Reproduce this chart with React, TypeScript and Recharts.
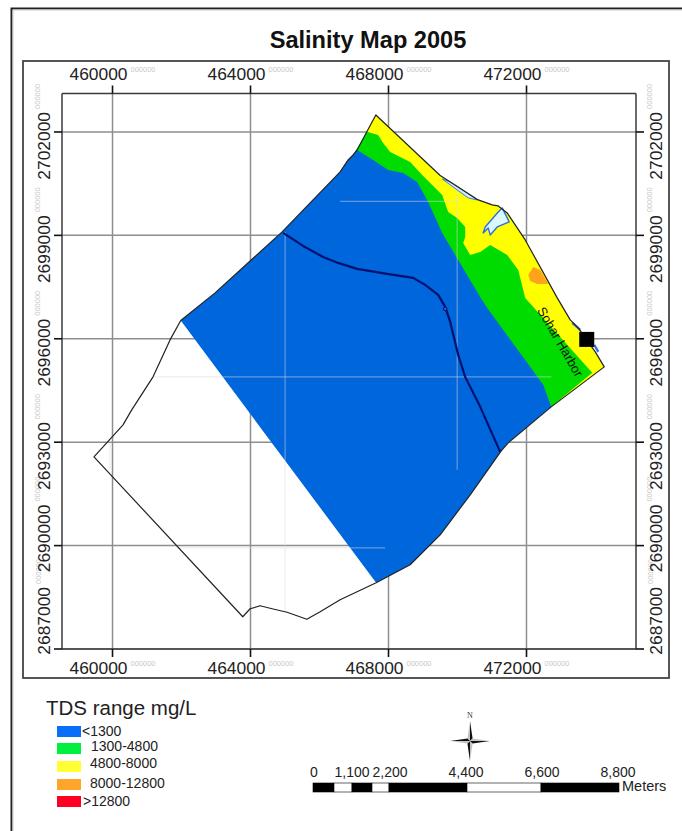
import React from 'react';
import { ScatterChart, Scatter, XAxis, YAxis, ReferenceLine } from 'recharts';

type P = [number, number];

const title = 'Salinity Map 2005';
const xTicks = [460000, 464000, 468000, 472000];
const yTicks = [2687000, 2690000, 2693000, 2696000, 2699000, 2702000];
const xDomain: P = [458536, 475174];
const yDomain: P = [2687000, 2703116];

const coastEast: P[] = [
  [467633, 2702493], [469498, 2700738], [470600, 2700028], [471006, 2699883], [471180, 2699854],
  [471441, 2699651], [471963, 2698868], [472891, 2697186], [473268, 2696548], [473500, 2696316],
  [473993, 2695620], [474254, 2695185],
];
const southEast: P[] = [
  [472717, 2694025], [471470, 2692981], [471267, 2692749], [470368, 2691473], [469498, 2690313],
  [468628, 2689443], [467642, 2688921],
];
const southWest: P[] = [
  [466598, 2688428], [466018, 2688080], [465632, 2687862], [465061, 2688065], [464626, 2688167],
  [464278, 2688254], [463988, 2688167], [463776, 2687935], [459463, 2692575], [460305, 2693503],
  [460557, 2693938], [461175, 2694895], [461668, 2695968],
];
const northWest: P[] = [
  [461978, 2696528], [462973, 2697331], [464916, 2699100], [466598, 2700840], [466830, 2701188],
  [466975, 2701333], [467091, 2701478],
];
const northTip: P[] = [[467372, 2702009]];

const blueEdge: P[] = [
  [467091, 2701478], [467555, 2701188], [467990, 2700898], [468425, 2700811], [468831, 2700550],
  [469150, 2699970], [469556, 2699071], [470020, 2698288], [470658, 2697215], [470861, 2696896],
  [472485, 2694663],
];
const greenEdge: P[] = [
  [467372, 2702009], [467700, 2701913], [467845, 2701681], [468048, 2701420], [468628, 2701130],
  [468976, 2700753], [469556, 2700173], [469730, 2699680], [469991, 2699506], [470223, 2699245],
  [470223, 2698955], [470165, 2698781], [470368, 2698433], [470658, 2698520], [470948, 2698723],
  [471441, 2698433], [471760, 2697998], [471963, 2697186], [473906, 2695011], [472717, 2694025],
];
const innerPoint: P[] = [[468338, 2697128]];
const orangePatch: P[] = [
  [472050, 2697853], [472195, 2698085], [472398, 2697998], [472630, 2697592], [472311, 2697592], [472108, 2697679],
];
const lake: P[] = [
  [470745, 2699071], [470803, 2699245], [471180, 2699680], [471296, 2699796], [471499, 2699390],
  [471151, 2699245], [470948, 2699013], [470890, 2699216],
];
const lagoon: P[] = [[469556, 2700637], [469788, 2700550], [470020, 2700405], [470571, 2700028], [470310, 2700086]];
const river: P[] = [
  [464945, 2699071], [465525, 2698694], [466105, 2698375], [466540, 2698201], [467091, 2698027],
  [467961, 2697882], [468715, 2697766], [469063, 2697563], [469440, 2697273], [469643, 2696925],
  [469788, 2696490], [470020, 2695533], [470223, 2694895], [470658, 2694025], [471238, 2692720],
];
const riverPool: P[] = [[469643, 2696867]];
const harborRims: P[][] = [
  [[473326, 2696461], [473558, 2696258]],
  [[473964, 2695823], [474080, 2695620]],
];
const faintLines: P[][] = [
  [[461175, 2694895], [472717, 2694895]],
  [[465003, 2699100], [465003, 2688065]],
  [[461900, 2689936], [467903, 2689936]],
  [[459928, 2692981], [459928, 2692198]],
  [[469990, 2700318], [469990, 2692198]],
  [[466598, 2699984], [470078, 2699984]],
];
const harbor: P[] = [[473746, 2695982]];
const harborLabelAt: P[] = [[472978, 2695910]];
const harborLabel = 'Sohar Harbor';

const yLabelShift: Record<number, number> = { 2687000: -42, 2690000: -21 };

const legendTitle = 'TDS range mg/L';
const legendLabels = ['<1300', '1300-4800', '4800-8000', '8000-12800', '>12800'];
const legendColors = ['#0a6ef8', '#00f040', '#ffff33', '#ffa52a', '#ff0022'];
const legendSwatchY = [726, 743, 761, 779, 796];
const legendTextX = [82, 91, 90, 90, 83];
const legendTextY = [736, 751, 768, 788, 806];

const scaleLabels = ['0', '1,100', '2,200', '4,400', '6,600', '8,800'];
const scaleLabelX = [314, 352, 390, 466, 542, 618];
const scaleStops = [313, 334, 352, 372, 389, 467, 541, 619];
const scaleUnit = 'Meters';

const toPts = (a: P[]) => a.map(([x, y]) => ({ x, y }));
const ptsStr = (pts: any[]) => pts.map((p) => `${p.x},${p.y}`).join(' ');
const noMark = () => <g />;

const area = (name: string, a: P[], fill: string, stroke = 'none', sw = 0) => (
  <Scatter
    key={name}
    name={name}
    data={toPts(a)}
    isAnimationActive={false}
    shape={noMark}
    line={(p: any) => <polygon points={ptsStr(p.points)} fill={fill} stroke={stroke} strokeWidth={sw} strokeLinejoin="round" />}
  />
);
const path = (name: string, a: P[], stroke: string, sw: number) => (
  <Scatter
    key={name}
    name={name}
    data={toPts(a)}
    isAnimationActive={false}
    shape={noMark}
    line={(p: any) => <polyline points={ptsStr(p.points)} fill="none" stroke={stroke} strokeWidth={sw} strokeLinejoin="round" />}
  />
);

const FONT = '"Liberation Sans", Arial, sans-serif';

const XTick = ({ x, y, payload, side }: any) => {
  const base = side === 'top' ? y - 5.5 : y + 17;
  return (
    <g>
      <text x={x + 15} y={base} textAnchor="end" fontSize={17.4} fill="#222" fontFamily={FONT}>{payload.value}</text>
      <text x={x + 18} y={base - 8.5} textAnchor="start" fontSize={7.5} fill="#c8c8c8" fontFamily={FONT}>000000</text>
    </g>
  );
};
const YTick = ({ x, y, payload, side }: any) => {
  const bx = side === 'left' ? x - 4 : x + 18;
  const sx = bx - 9.5;
  const top = y - 20 + (yLabelShift[payload.value] ?? 0);
  return (
    <g>
      <text x={bx} y={top} textAnchor="end" fontSize={17.4} fill="#222" fontFamily={FONT} transform={`rotate(-90 ${bx} ${top})`}>{payload.value}</text>
      <text x={sx} y={top - 3} textAnchor="start" fontSize={7.5} fill="#c8c8c8" fontFamily={FONT} transform={`rotate(-90 ${sx} ${top - 3})`}>000000</text>
    </g>
  );
};

const GRID = '#8e8e8e';
const axisLine = { stroke: '#3a3a3a', strokeWidth: 1.5 };
const tickLine = { stroke: '#111', strokeWidth: 1.6 };

const Compass = () => {
  const cx = 470, cy = 741, l = 20, w = 2.6;
  return (
    <g>
      <text x={cx} y={718} textAnchor="middle" fontSize={8} fontFamily='"Liberation Serif", serif' fill="#333">N</text>
      <polygon points={`${cx},${cy - l} ${cx + w},${cy - w} ${cx},${cy}`} fill="#111" />
      <polygon points={`${cx},${cy - l} ${cx - w},${cy - w} ${cx},${cy}`} fill="#c4c4c4" />
      <polygon points={`${cx},${cy + l} ${cx - w},${cy + w} ${cx},${cy}`} fill="#111" />
      <polygon points={`${cx},${cy + l} ${cx + w},${cy + w} ${cx},${cy}`} fill="#c4c4c4" />
      <polygon points={`${cx - l},${cy} ${cx - w},${cy - w} ${cx},${cy}`} fill="#111" />
      <polygon points={`${cx - l},${cy} ${cx - w},${cy + w} ${cx},${cy}`} fill="#c4c4c4" />
      <polygon points={`${cx + l},${cy} ${cx + w},${cy + w} ${cx},${cy}`} fill="#111" />
      <polygon points={`${cx + l},${cy} ${cx + w},${cy - w} ${cx},${cy}`} fill="#c4c4c4" />
    </g>
  );
};

export default function App() {
  return (
    <div style={{ position: 'absolute', left: 0, top: 0, width: 682, height: 831, background: '#fff', overflow: 'hidden', fontFamily: FONT }}>
      <svg width={682} height={831} style={{ position: 'absolute', left: 0, top: 0 }}>
        <path d="M11.5 831 V8.5 H682" fill="none" stroke="#222" strokeWidth={2} />
        <path d="M13 831 V10 H682" fill="none" stroke="#ccc" strokeWidth={1} />
        <rect x={23} y={61} width={646} height={617} fill="none" stroke="#444" strokeWidth={1.8} />
        <text x={368} y={48} textAnchor="middle" fontSize={23.6} fontWeight="bold" fill="#111">{title}</text>
      </svg>
      <div style={{ position: 'absolute', left: 0, top: 0 }}>
        <ScatterChart width={682} height={831} margin={{ top: 0, right: 0, bottom: 0, left: 0 }}>
          <XAxis xAxisId={0} type="number" dataKey="x" orientation="bottom" domain={xDomain} ticks={xTicks} allowDataOverflow height={182} tickSize={8} tickMargin={0} axisLine={axisLine} tickLine={tickLine} tick={<XTick side="bottom" />} interval={0} />
          <XAxis xAxisId="top" type="number" dataKey="x" orientation="top" domain={xDomain} ticks={xTicks} allowDataOverflow height={93.5} tickSize={8} tickMargin={0} axisLine={axisLine} tickLine={tickLine} tick={<XTick side="top" />} interval={0} />
          <YAxis yAxisId={0} type="number" dataKey="y" orientation="left" domain={yDomain} ticks={yTicks} allowDataOverflow width={62} tickSize={8} tickMargin={0} axisLine={axisLine} tickLine={tickLine} tick={<YTick side="left" />} interval={0} />
          <YAxis yAxisId="right" type="number" dataKey="y" orientation="right" domain={yDomain} ticks={yTicks} allowDataOverflow width={46} tickSize={8} tickMargin={0} axisLine={axisLine} tickLine={tickLine} tick={<YTick side="right" />} interval={0} />

          {area('4800-8000', [...coastEast, southEast[0], ...innerPoint, ...northTip], '#ffff00')}
          {area('1300-4800', [...greenEdge, ...innerPoint, northWest[5]], '#00dc00')}
          {area('<1300', [...blueEdge, ...southEast, ...northWest], '#0066dc')}
          {area('8000-12800', orangePatch, '#ffa31a')}
          {faintLines.map((l, i) => path(`faint${i}`, l, 'rgba(222,216,226,0.45)', 1.2))}
          {area('lagoon', lagoon, '#cfeaff', '#3f7fe0', 1)}
          {area('lake', lake, '#dcf8ff', '#2f6fe0', 1.4)}
          {path('river', river, '#00106e', 2.2)}
          <Scatter name="pool" data={toPts(riverPool)} isAnimationActive={false} shape={(p: any) => <circle cx={p.cx} cy={p.cy} r={1.8} fill="#2a5fc8" stroke="#00106e" strokeWidth={1} />} />

          {xTicks.map((v) => <ReferenceLine key={`gx${v}`} x={v} stroke={GRID} strokeWidth={1.5} />)}
          {yTicks.map((v) => <ReferenceLine key={`gy${v}`} y={v} stroke={GRID} strokeWidth={1.5} />)}

          {harborRims.map((l, i) => path(`rim${i}`, l, '#2f6fe0', 2.2))}
          {area('outline', [...coastEast, ...southEast, ...southWest, ...northWest, ...northTip], 'none', '#222', 1.2)}
          <Scatter name="harbor" data={toPts(harbor)} isAnimationActive={false} shape={(p: any) => <rect x={p.cx - 7.5} y={p.cy - 7.5} width={15} height={15} fill="#000" />} />
          <Scatter name="label" data={toPts(harborLabelAt)} isAnimationActive={false} shape={(p: any) => <text x={p.cx} y={p.cy} textAnchor="middle" dominantBaseline="central" fontSize={13} fill="#111" fontFamily={FONT} transform={`rotate(60 ${p.cx} ${p.cy})`}>{harborLabel}</text>} />
        </ScatterChart>
      </div>
      <svg width={682} height={831} style={{ position: 'absolute', left: 0, top: 0, pointerEvents: 'none' }}>
        <text x={46} y={715} fontSize={20.5} fill="#222">{legendTitle}</text>
        {legendLabels.map((t, i) => (
          <g key={t}>
            <rect x={57} y={legendSwatchY[i]} width={24} height={11} fill={legendColors[i]} />
            <text x={legendTextX[i]} y={legendTextY[i]} fontSize={14} fill="#222">{t}</text>
          </g>
        ))}
        <Compass />
        {scaleLabels.map((t, i) => (
          <text key={t} x={scaleLabelX[i]} y={777} textAnchor="middle" fontSize={14} fill="#222">{t}</text>
        ))}
        {scaleStops.slice(0, -1).map((s, i) => (
          <rect key={s} x={s} y={783} width={scaleStops[i + 1] - s} height={9} fill={i % 2 === 0 ? '#000' : '#fff'} stroke="#000" strokeWidth={0.6} />
        ))}
        <text x={622} y={791} fontSize={14.5} fill="#222">{scaleUnit}</text>
      </svg>
    </div>
  );
}
